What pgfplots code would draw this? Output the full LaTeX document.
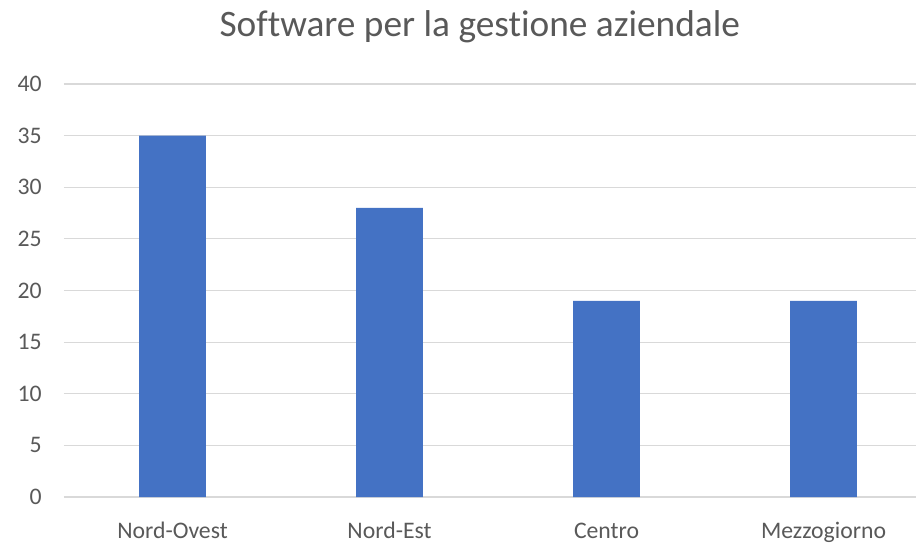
\documentclass[border=0pt]{standalone}
\usepackage{fontspec}
\setmainfont{Carlito}[Ligatures={NoCommon}]
\usepackage{pgfplots}
\pgfplotsset{compat=1.18}
\definecolor{barblue}{HTML}{4472C4}
\definecolor{txtgray}{HTML}{595959}
\definecolor{gridgray}{HTML}{D9D9D9}
\begin{document}
\begin{tikzpicture}
\useasboundingbox (-48pt,-33.75pt) rectangle (639pt,372.75pt);
\begin{axis}[
  scale only axis,
  width=639pt, height=309.75pt,
  xmin=-0.5, xmax=3.426,
  ymin=0, ymax=40,
  ytick={0,5,...,40},
  xtick={0,1,2,3},
  xticklabels={Nord-Ovest,Nord-Est,Centro,Mezzogiorno},
  ybar, bar width=50pt,
  ymajorgrids,
  major grid style={gridgray, line width=0.9pt},
  axis line style={draw=none},
  major tick length=0pt,
  /pgf/number format/assume math mode=true,
  tick label style={font=\fontsize{17.8pt}{20pt}\selectfont, text=txtgray},
  yticklabel style={anchor=east, inner sep=0pt, xshift=-16.5pt},
  xticklabel style={anchor=base, inner sep=0pt, yshift=-30.75pt},
  title={Software per la gestione aziendale},
  title style={at={(0.488,1)}, anchor=base, yshift=29.5pt, inner sep=0pt,
    font=\fontsize{28pt}{32pt}\selectfont, text=txtgray},
]
\addplot[fill=barblue, draw=none] coordinates {(0,35) (1,28) (2,19) (3,19)};
\end{axis}
\end{tikzpicture}
\end{document}
